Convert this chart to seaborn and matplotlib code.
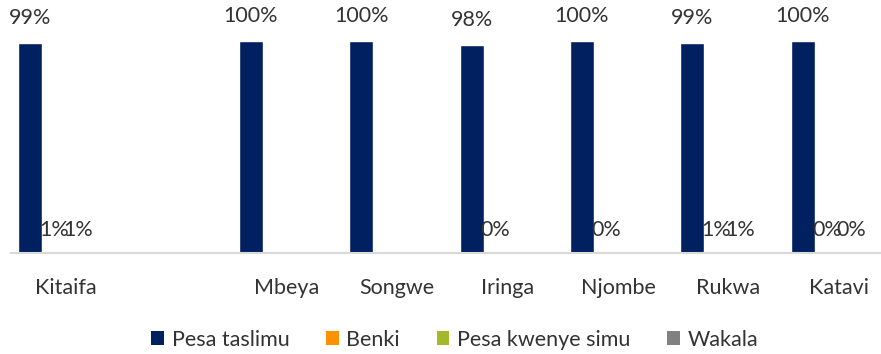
import numpy as np
import pandas as pd
import matplotlib
matplotlib.use("Agg")
import matplotlib.pyplot as plt
from matplotlib.patches import Patch
import seaborn as sns

# Regions (the blank slot separates the national figure from the regions)
categories = ["Kitaifa", "", "Mbeya", "Songwe", "Iringa", "Njombe", "Rukwa", "Katavi"]
series = ["Pesa taslimu", "Benki", "Pesa kwenye simu", "Wakala"]

# Shares in percent (None = no value reported)
pesa_taslimu = [99, None, 100, 100, 98, 100, 99, 100]
benki = [1, None, None, None, 0, 0, 1, 0]
pesa_kwenye_simu = [1, None, None, None, 0.6, None, 1, 0]
wakala = [None, None, None, None, None, None, None, None]

colors = ["#002060", "#FF9100", "#A5B82C", "#808080"]
text_color = "#333333"
font_size = 15.5

# Bars without a printed value
unlabelled = {("Pesa kwenye simu", "Iringa")}

rows = []
for name, vals in zip(series, [pesa_taslimu, benki, pesa_kwenye_simu, wakala]):
    for cat, v in zip(categories, vals):
        rows.append({"Mkoa": cat, "Njia": name, "Asilimia": np.nan if v is None else v})
df = pd.DataFrame(rows)

sns.set_theme(style="white")
plt.rcParams["font.family"] = ["Lato", "DejaVu Sans"]

fig = plt.figure(figsize=(8.81, 3.54), dpi=100)
ax = fig.add_axes([10.8 / 881, 101 / 354, 883.2 / 881, 212 / 354])

sns.barplot(data=df, x="Mkoa", y="Asilimia", hue="Njia", order=categories,
            hue_order=series, palette=colors, width=0.87, saturation=1,
            errorbar=None, legend=False, ax=ax)

ax.set_xlim(-0.5, len(categories) - 0.5)
ax.set_ylim(0, 100)
ax.set_xlabel("")
ax.set_ylabel("")
ax.set_yticks([])
ax.tick_params(axis="x", length=0, pad=18, labelsize=font_size, labelcolor=text_color)
for side in ["top", "left", "right"]:
    ax.spines[side].set_visible(False)
ax.spines["bottom"].set_color("#D9D9D9")
ax.spines["bottom"].set_linewidth(1.5)

# Value labels
for name, container in zip(series, ax.containers):
    for bar in container:
        h = bar.get_height()
        if np.isnan(h):
            continue
        cx = bar.get_x() + bar.get_width() / 2
        cat = categories[int(round(cx))]
        if (name, cat) in unlabelled:
            continue
        label = f"{h:.0f}%"
        if h >= 50:
            ax.annotate(label, (cx, h), xytext=(0, 18), textcoords="offset points",
                        ha="center", va="center", fontsize=font_size, color=text_color,
                        annotation_clip=False)
        else:
            ax.text(cx, 11, label, ha="center", va="center", fontsize=font_size,
                    color=text_color)

handles = [Patch(facecolor=c, edgecolor="none") for c in colors]
fig.legend(handles, series, loc="center", bbox_to_anchor=(0.516, 0.04),
           ncol=4, frameon=False, fontsize=font_size, handlelength=0.6, handleheight=0.6,
           handletextpad=0.35, columnspacing=1.7, labelcolor=text_color)

fig.savefig("out.png", dpi=100, facecolor="white")
